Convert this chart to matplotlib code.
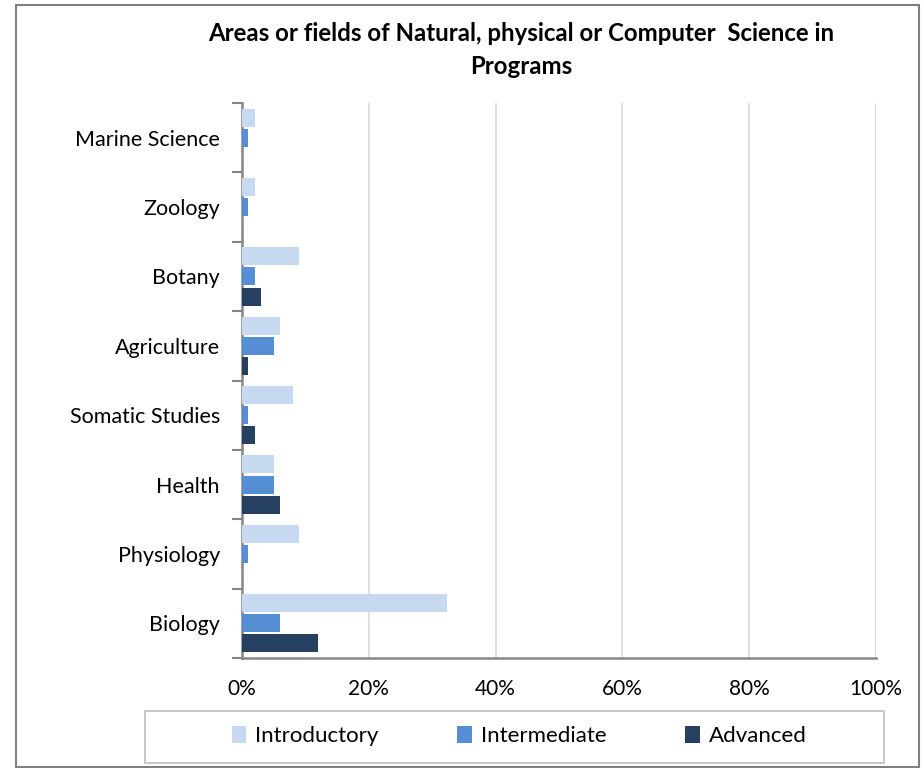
import numpy as np
import matplotlib.pyplot as plt
from matplotlib.patches import Rectangle

# Data (percent)
categories = ["Biology", "Physiology", "Health", "Somatic Studies",
              "Agriculture", "Botany", "Zoology", "Marine Science"]
introductory = [32.3, 9, 5, 8, 6, 9, 2, 2]
intermediate = [6, 1, 5, 1, 5, 2, 1, 1]
advanced = [12, 0, 6, 2, 1, 3, 0, 0]
series_names = ["Introductory", "Intermediate", "Advanced"]
xticks = [0, 20, 40, 60, 80, 100]

plt.rcParams["font.family"] = ["Lato", "DejaVu Sans"]

fig = plt.figure(figsize=(9.23, 7.68), dpi=100)
ax = fig.add_axes([242 / 923, 1 - 658 / 768, 634 / 923, 555 / 768])

y = np.arange(len(categories))
h = 0.26
off = 0.29
colors = ["#C6D9F1", "#558ED5", "#254061"]
for vals, d, c, name in zip([introductory, intermediate, advanced],
                            [off, 0, -off], colors, series_names):
    ax.barh(y + d, vals, height=h, color=c, label=name,
            linewidth=0, zorder=3)

ax.set_xlim(0, 100)
ax.set_ylim(-0.5, len(categories) - 0.5)
ax.set_xticks(xticks)
ax.set_xticklabels([f"{t}%" for t in xticks], fontsize=15)
ax.xaxis.grid(True, color="#D9D9D9", linewidth=1.2, zorder=0)
ax.tick_params(axis="x", length=0, pad=15)

ax.set_yticks(y)
ax.set_yticklabels(categories, fontsize=15.5)
ax.set_yticks(np.arange(len(categories) + 1) - 0.5, minor=True)
ax.tick_params(axis="y", which="major", length=0, pad=16)
ax.tick_params(axis="y", which="minor", length=7, width=1.5, color="#868686")

for s in ["top", "right"]:
    ax.spines[s].set_visible(False)
for s in ["left", "bottom"]:
    ax.spines[s].set_color("#868686")
    ax.spines[s].set_linewidth(1.8)

fig.text(521 / 923, 1 - 50 / 768,
         "Areas or fields of Natural, physical or Computer  Science in\nPrograms",
         ha="center", va="center", fontsize=17.3, fontweight="bold",
         linespacing=1.5)

# legend box
fig.patches.append(Rectangle((145 / 923, 1 - 763 / 768), 739 / 923, 52 / 768,
                             transform=fig.transFigure, fill=False,
                             edgecolor="#BFBFBF", linewidth=1.2))
leg = fig.legend(loc="center", bbox_to_anchor=(519 / 923, 1 - 736 / 768),
                 ncol=3, frameon=False, fontsize=16, handlelength=0.65,
                 handleheight=0.85, handletextpad=0.4, columnspacing=3.55)

# outer chart border
fig.patches.append(Rectangle((16 / 923, 1 - 767 / 768), 903 / 923, 762 / 768,
                             transform=fig.transFigure, fill=False,
                             edgecolor="#808080", linewidth=1.5))

fig.savefig("out.png", dpi=100)
